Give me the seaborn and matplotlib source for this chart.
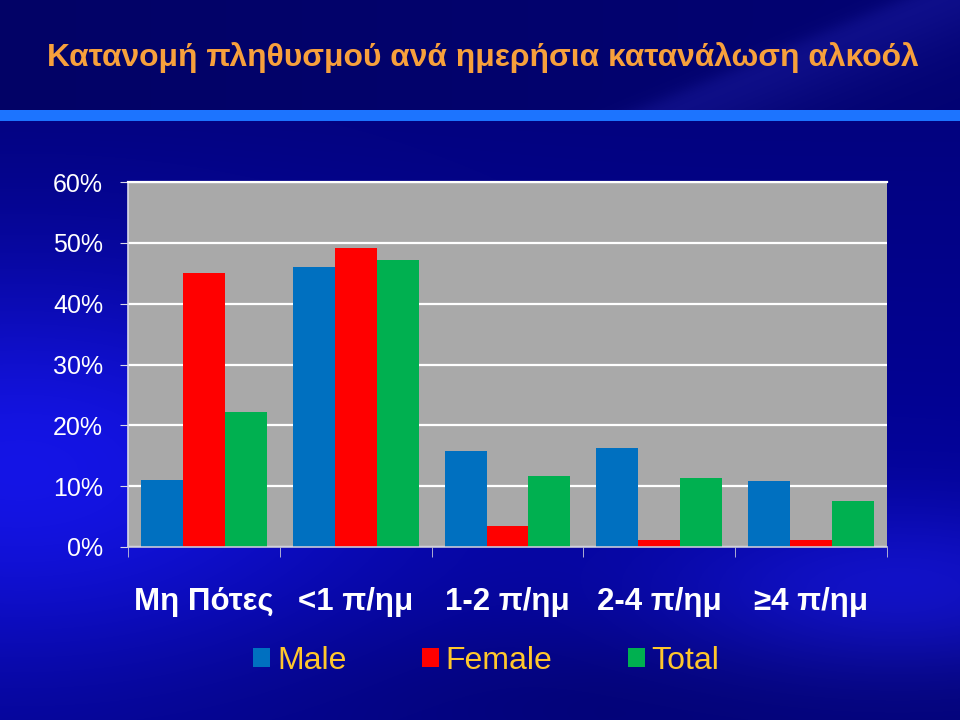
import numpy as np
import pandas as pd
import matplotlib
matplotlib.use('Agg')
import matplotlib.pyplot as plt
import seaborn as sns
from matplotlib.patches import Patch, Rectangle

# ---- data ----
categories = ['Μη Πότες', '<1 π/ημ', '1-2 π/ημ', '2-4 π/ημ', '≥4 π/ημ']
male = [11.0, 46.0, 15.8, 16.3, 10.8]
female = [45.0, 49.1, 3.5, 1.1, 1.1]
total = [22.2, 47.1, 11.7, 11.3, 7.5]
series = ['Male', 'Female', 'Total']
colors = ['#0070C0', '#FF0000', '#00B050']
yticks = [0, 10, 20, 30, 40, 50, 60]
ytick_labels = [f'{v}%' for v in yticks]
title = 'Κατανομή πληθυσμού ανά ημερήσια κατανάλωση αλκοόλ'

df = pd.DataFrame({
    'category': categories * 3,
    'series': [s for s in series for _ in categories],
    'value': male + female + total,
})

plt.rcParams['font.family'] = ['Liberation Sans', 'DejaVu Sans']

W, H = 960, 720
fig = plt.figure(figsize=(9.6, 7.2), dpi=100)

# ---- background gradient ----
yy, xx = np.mgrid[0:H, 0:W].astype(float)
r = np.zeros((H, W)); g = np.zeros((H, W)); b = np.zeros((H, W))
b += 0.50 + 0.08 * np.clip((yy - 120) / 300, 0, 1)
r += 0.01; g += 0.01
glow = np.exp(-(((xx - 20) / 380) ** 2 + ((yy - 470) / 200) ** 2))
r += 0.07 * glow; g += 0.07 * glow; b += 0.32 * glow
glow2 = np.exp(-(((xx - 900) / 250) ** 2 + ((yy - 590) / 90) ** 2))
r += 0.06 * glow2; g += 0.06 * glow2; b += 0.22 * glow2
dark = np.exp(-(((yy - 700) / 90) ** 2)) * np.clip((xx + 200) / 800, 0, 1)
b -= 0.12 * dark
top = yy < 110
b[top] = 0.40 + 0.05 * (xx[top] / W)
r[top] = 0.01; g[top] = 0.01
# light arc in the title band
arc = 1 / (1 + np.exp(-(xx - (900 - 2.4 * yy)) / 12)) * np.exp(-((xx - (900 - 2.4 * yy)) / 160) ** 2)
arc = arc * top
r += 0.05 * arc; g += 0.05 * arc; b += 0.10 * arc
img = np.clip(np.dstack([r, g, b]), 0, 1)
bg = fig.add_axes([0, 0, 1, 1], zorder=-10)
bg.imshow(img, aspect='auto', extent=[0, 1, 0, 1])
bg.axis('off')

# blue bar under title
fig.patches.append(Rectangle((0, 1 - 121 / H), 1, 11 / H, transform=fig.transFigure,
                             facecolor='#1C74FF', edgecolor='none', zorder=-5))

# title
fig.text(483 / W, 1 - 66 / H, title, color='#F7A03C', fontsize=22.9,
         fontweight='bold', ha='center', va='baseline')

# ---- chart ----
ax = fig.add_axes([128 / W, 1 - 547 / H, (887 - 128) / W, (547 - 182) / H])
ax.set_facecolor('#A9A9A9')
sns.barplot(data=df, x='category', y='value', hue='series', palette=colors,
            width=0.83, saturation=1, ax=ax, legend=False, errorbar=None)
ax.set_ylim(0, 60)
ax.set_xlim(-0.5, len(categories) - 0.5)
ax.set_yticks(yticks)
ax.set_yticklabels(ytick_labels)
ax.yaxis.grid(True, color='white', linewidth=1.6)
ax.set_axisbelow(True)
ax.set_xlabel('')
ax.set_ylabel('')
ax.spines['right'].set_visible(False)
ax.spines['top'].set_color('white')
ax.spines['top'].set_linewidth(1.6)
ax.spines['left'].set_color('#D8D8E8')
ax.spines['bottom'].set_color('#C8C8D8')
ax.spines['left'].set_linewidth(1.2)
ax.spines['bottom'].set_linewidth(1.2)
ax.tick_params(axis='y', direction='out', length=6, color='#D8D8E8',
               labelcolor='white', labelsize=18, pad=12)
ax.tick_params(axis='x', which='major', length=0, labelcolor='white',
               labelsize=22.5, pad=29)
for lbl in ax.get_xticklabels():
    lbl.set_fontweight('bold')
ax.set_xticks(np.arange(-0.5, len(categories), 1.0), minor=True)
ax.tick_params(axis='x', which='minor', direction='out', length=7, color='#C8C8D8')

# legend
handles = [Patch(facecolor=c, edgecolor='none', label=s) for s, c in zip(series, colors)]
fig.legend(handles=handles, loc='center', bbox_to_anchor=(486.5 / W, 1 - 661 / H),
           ncol=3, frameon=False, fontsize=23, labelcolor='#FFC72C',
           handlelength=0.53, handleheight=0.53, handletextpad=0.22,
           columnspacing=2.35, borderpad=0)

fig.savefig('out.png', dpi=100)
